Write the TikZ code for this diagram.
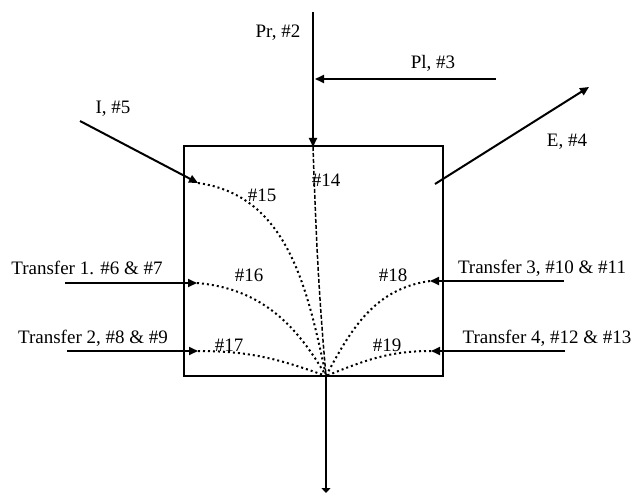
\documentclass[tikz,border=0pt]{standalone}
\usepackage{fontspec}
\setmainfont{Liberation Serif}
\usetikzlibrary{arrows.meta,positioning,calc}

\begin{document}
\begin{tikzpicture}[x=1pt,y=-1pt,
    lbl/.style={inner sep=1pt,font=\fontsize{19}{22}\selectfont},
    flow/.style={line width=2pt,-{Triangle[length=9pt,width=8pt]}},
    route/.style={line width=2pt,dotted,dash pattern=on 2pt off 3pt},
    vert/.style={line width=1.5pt,dash pattern=on 4pt off 2pt}]
  \useasboundingbox (0,0) rectangle (632,500);
  % the cell
  \node[draw,line width=2pt,minimum width=259pt,minimum height=230pt,inner sep=0pt] (cell) at (313.5,261) {};
  \coordinate (sink) at (326,376);
  \coordinate (out) at (326,493);
  % vertical fluxes
  \coordinate (prtop) at (313,12);
  \coordinate (prin) at (313,147);
  \coordinate (plstart) at (496,79);
  \coordinate (plend) at (315,79);
  \draw[flow] (prtop) -- (prin);
  \draw[flow] (plstart) -- (plend);
  \node[lbl] (pr) at (278,33) {Pr, \#2};
  \node[lbl] (pl) at (433,63) {Pl, \#3};
  % lateral in and out
  \coordinate (istart) at (80,121);
  \coordinate (iend) at (198,183);
  \coordinate (estart) at (435,184);
  \coordinate (eend) at (589,87);
  \draw[flow] (istart) -- (iend);
  \draw[flow] (estart) -- (eend);
  \node[lbl] (inf) at (113,109) {I, \#5};
  \node[lbl] (ex) at (567,142) {E, \#4};
  % transfers
  \coordinate (t1s) at (65,283);
  \coordinate (t1e) at (197,283);
  \coordinate (t2s) at (67,351);
  \coordinate (t2e) at (198,351);
  \coordinate (t3s) at (564,281);
  \coordinate (t3e) at (430,281);
  \coordinate (t4s) at (565,351);
  \coordinate (t4e) at (431,351);
  \draw[flow] (t1s) -- (t1e);
  \draw[flow] (t2s) -- (t2e);
  \draw[flow] (t3s) -- (t3e);
  \draw[flow] (t4s) -- (t4e);
  \node[lbl] (tr1) at (87,268) {Transfer 1. \#6 \& \#7};
  \node[lbl] (tr2) at (93,338) {Transfer 2, \#8 \& \#9};
  \node[lbl] (tr3) at (542,268) {Transfer 3, \#10 \& \#11};
  \node[lbl] (tr4) at (547,338) {Transfer 4, \#12 \& \#13};
  % routing inside the cell
  \draw[vert] (prin) to[out=-88,in=95] (sink);
  \draw[route] (iend) to[out=-8,in=102] (sink);
  \draw[route] (t1e) to[out=-5,in=120] (sink);
  \draw[route] (t2e) to[out=0,in=160] (sink);
  \draw[route] (t3e) to[out=188,in=62] (sink);
  \draw[route] (t4e) to[out=180,in=22] (sink);
  \node[lbl] (r14) at (326,180) {\#14};
  \node[lbl] (r15) at (262,195) {\#15};
  \node[lbl] (r16) at (249,275) {\#16};
  \node[lbl] (r17) at (229,345) {\#17};
  \node[lbl] (r18) at (393,275) {\#18};
  \node[lbl] (r19) at (387,345) {\#19};
  % outflow
  \draw[line width=2pt,-{Triangle[length=5pt,width=9pt]}] (sink) -- (out);
\end{tikzpicture}
\end{document}
